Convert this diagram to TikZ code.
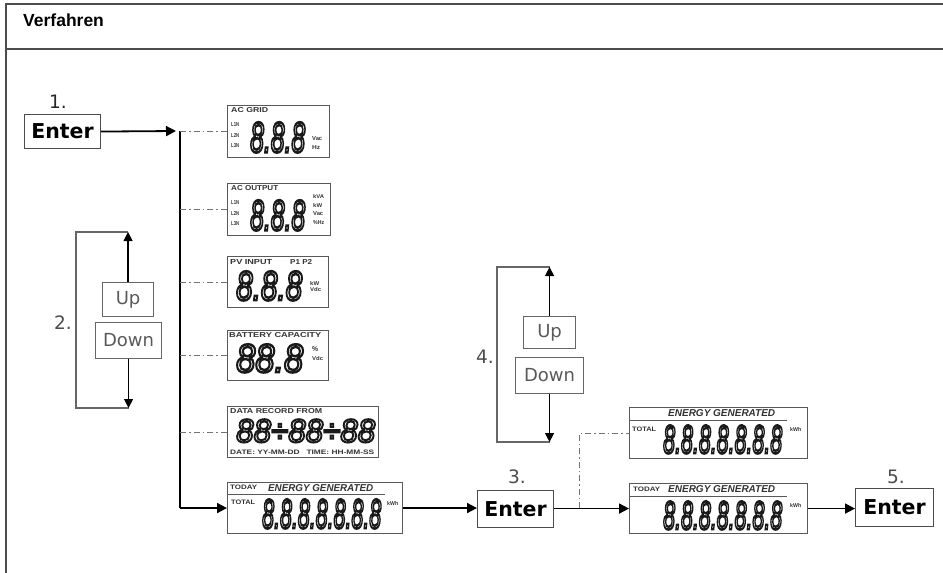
\documentclass[tikz,border=0pt]{standalone}
\usepackage{fontspec}
\usepackage{graphicx}
\setmainfont{Liberation Sans}
\newfontfamily\dvfont{DejaVu Sans}
\usetikzlibrary{arrows.meta}
\newcommand\lb[3]{\resizebox{#1pt}{#2pt}{\bfseries #3}}
\newcommand\lbi[3]{\resizebox{#1pt}{#2pt}{\bfseries\itshape #3}}
\newcommand\outl[1]{\special{pdf:literal q 1 Tr 0.6 w}#1\special{pdf:literal Q}}
\newcommand\dg[3]{\resizebox{#1pt}{#2pt}{\outl{\itshape #3}}}
\tikzset{
 frame/.style={draw=black!70, line width=1.2pt},
 flow/.style={draw=black, line width=1.8pt, -{Triangle[length=10pt,width=10pt]}},
 flowline/.style={draw=black, line width=1.6pt},
 thinflow/.style={draw=black, line width=1.3pt, -{Triangle[length=9pt,width=9pt]}},
 dd/.style={draw=black!55, line width=1pt, dash pattern=on 6pt off 3pt on 1.5pt off 3pt},
 btn/.style={draw=black!70, line width=1.1pt, inner sep=0pt, anchor=north west, font=\dvfont\bfseries\fontsize{20.5}{22}\selectfont},
 updn/.style={draw=black!60, line width=1.1pt, inner sep=0pt, anchor=north west, text=black!65, font=\dvfont\fontsize{18}{20}\selectfont},
 bracket/.style={draw=black!60, line width=1.3pt},
 stepnum/.style={text=black!70, font=\dvfont\fontsize{18.5}{20}\selectfont, inner sep=0pt},
 panel/.style={draw=black!65, line width=1.1pt, inner sep=0pt, anchor=north west},
 txt/.style={inner sep=0pt, text=black!80},
 dgt/.style={inner sep=0pt, anchor=north west, text=black!90},
 title/.style={inner sep=0pt, font=\bfseries\fontsize{17.5}{20}\selectfont},
}
\begin{document}
\begin{tikzpicture}[x=1pt,y=-1pt]
\useasboundingbox (0,0) rectangle (943,573);
% frame
\coordinate (ftl) at (6,4); \coordinate (ftr) at (943,4);
\coordinate (fbl) at (6,573);
\coordinate (fml) at (6,49); \coordinate (fmr) at (943,49);
\draw[frame] (ftr) -- (ftl) -- (fbl);
\draw[frame] (fml) -- (fmr);
\node[title, anchor=west] (title) at (23,20) {Verfahren};

% ---------- step 1
\node[stepnum, text=black!85] (n1) at (58,102) {1.};
\node[btn, minimum width=76pt, minimum height=34pt] (e1) at (24,114) {Enter};

% ---------- left column panels
% AC GRID
\node[panel, minimum width=102pt, minimum height=52pt] (p1) at (227,105) {};
\node[txt, anchor=west] (p1a) at (231,110) {\lb{37}{5}{AC GRID}};
\node[txt, anchor=west] (p1b) at (231,124) {\lb{8}{4}{L1N}};
\node[txt, anchor=west] (p1c) at (231,135) {\lb{8}{4}{L2N}};
\node[txt, anchor=west] (p1e) at (231,146) {\lb{8}{4}{L3N}};
\node[dgt] (p1d) at (250,122) {\dg{55}{30}{8.8.8}};
\node[txt, anchor=west] (p1f) at (312,139) {\lb{10}{4}{Vac}};
\node[txt, anchor=west] (p1g) at (312,147) {\lb{8}{4}{Hz}};
% AC OUTPUT
\node[panel, minimum width=103pt, minimum height=52pt] (p2) at (227,183) {};
\node[txt, anchor=west] (p2a) at (231,188) {\lb{47}{5}{AC OUTPUT}};
\node[txt, anchor=west] (p2b) at (231,202) {\lb{8}{4}{L1N}};
\node[txt, anchor=west] (p2c) at (231,213) {\lb{8}{4}{L2N}};
\node[txt, anchor=west] (p2e) at (231,224) {\lb{8}{4}{L3N}};
\node[dgt] (p2d) at (250,200) {\dg{55}{30}{8.8.8}};
\node[txt, anchor=west] (p2f) at (313,196) {\lb{11}{4}{kVA}};
\node[txt, anchor=west] (p2g) at (313,205) {\lb{9}{4}{kW}};
\node[txt, anchor=west] (p2h) at (313,214) {\lb{10}{4}{Vac}};
\node[txt, anchor=west] (p2i) at (313,223) {\lb{11}{4}{\%Hz}};
% PV INPUT
\node[panel, minimum width=101pt, minimum height=51pt] (p3) at (227,256) {};
\node[txt, anchor=west] (p3a) at (230,262) {\lb{42}{5}{PV INPUT}};
\node[txt, anchor=west] (p3b) at (290,262) {\lb{22}{5}{P1 P2}};
\node[dgt] (p3d) at (236,271) {\dg{66}{29}{8.8.8}};
\node[txt, anchor=west] (p3f) at (310,283) {\lb{9}{4}{kW}};
\node[txt, anchor=west] (p3g) at (310,290) {\lb{11}{4}{Vdc}};
% BATTERY CAPACITY
\node[panel, minimum width=101pt, minimum height=50pt] (p4) at (227,330) {};
\node[txt, anchor=west] (p4a) at (229,335) {\lb{92}{5}{BATTERY CAPACITY}};
\node[txt, anchor=west] (p4b) at (312,349) {\lb{6}{5}{\%}};
\node[dgt] (p4d) at (236,344) {\dg{67}{28}{88.8}};
\node[txt, anchor=west] (p4c) at (312,359) {\lb{11}{4}{Vdc}};
% DATA RECORD FROM
\node[panel, minimum width=151pt, minimum height=51pt] (p5) at (227,406) {};
\node[txt, anchor=west] (p5a) at (230,411) {\lb{92}{5}{DATA RECORD FROM}};
\node[dgt] (p5d) at (236,419) {\dg{139}{23}{88÷88÷88}};
\node[txt, anchor=west] (p5b) at (230,452) {\lb{144}{4.5}{DATE: YY-MM-DD\ \ \ TIME: HH-MM-SS}};
% TODAY ENERGY GENERATED (left)
\node[panel, minimum width=175pt, minimum height=51pt] (p6) at (227,482) {};
\node[txt, anchor=west] (p6a) at (230,487) {\lb{27}{4.5}{TODAY}};
\node[txt, anchor=west] (p6b) at (268,488) {\lbi{105}{7}{ENERGY GENERATED}};
\coordinate (p6l1) at (227,494); \coordinate (p6l2) at (385,494);
\draw[draw=black!65, line width=0.9pt] (p6l1) -- (p6l2);
\node[txt, anchor=west] (p6c) at (231,502) {\lb{24}{4.5}{TOTAL}};
\node[dgt] (p6d) at (262,499) {\dg{119}{29}{8.8.8.8.8.8.8}};
\node[txt, anchor=west] (p6e) at (387,503) {\lb{11}{4}{kWh}};

% ---------- connections left column
\coordinate (v1t) at (180,131);
\coordinate (a1) at (176,131);
\draw[flow] (e1.east) -- (a1);
\draw[flowline] (v1t) -- (p6.west -| v1t);
\draw[flow] (p6.west -| v1t) -- (p6.west);
\draw[dd] (p1.west -| v1t) -- (p1.west);
\draw[dd] (p2.west -| v1t) -- (p2.west);
\draw[dd] (p3.west -| v1t) -- (p3.west);
\draw[dd] (p4.west -| v1t) -- (p4.west);
\draw[dd] (p5.west -| v1t) -- (p5.west);

% ---------- step 2
\node[stepnum] (n2) at (63,323) {2.};
\node[updn, minimum width=51pt, minimum height=34pt] (up2) at (102,282) {Up};
\node[updn, minimum width=66pt, minimum height=36pt] (dn2) at (95,322) {Down};
\coordinate (u2) at (up2.north |- 0,232);
\coordinate (d2) at (dn2.south |- 0,408);
\coordinate (b2) at (76,408);
\draw[bracket] (u2) -| (b2) -- (d2);
\draw[thinflow] (up2.north) -- (u2);
\draw[thinflow] (dn2.south) -- (d2);

% ---------- step 4
\node[stepnum] (n4) at (485,357) {4.};
\node[updn, minimum width=52pt, minimum height=32pt] (up4) at (523,316) {Up};
\node[updn, minimum width=68pt, minimum height=36pt] (dn4) at (515,357) {Down};
\coordinate (u4) at (up4.north |- 0,267);
\coordinate (d4) at (dn4.south |- 0,442);
\coordinate (b4) at (497,442);
\draw[bracket] (u4) -| (b4) -- (d4);
\draw[thinflow] (up4.north) -- (u4);
\draw[thinflow] (dn4.south) -- (d4);

% ---------- step 3
\node[stepnum] (n3) at (517,477) {3.};
\node[btn, minimum width=76pt, minimum height=37pt] (e3) at (477,490) {Enter};
\draw[flow] (p6.east) -- (e3.west |- p6.east);

% ---------- right column panels
% TOTAL
\node[panel, minimum width=178pt, minimum height=51pt] (p7) at (629,407) {};
\node[txt, anchor=west] (p7b) at (668,413) {\lbi{107}{7}{ENERGY GENERATED}};
\coordinate (p7l1) at (629,420); \coordinate (p7l2) at (787,420);
\draw[draw=black!65, line width=0.9pt] (p7l1) -- (p7l2);
\node[txt, anchor=west] (p7c) at (632,429) {\lb{24}{4.5}{TOTAL}};
\node[dgt] (p7d) at (663,425) {\dg{119}{28}{8.8.8.8.8.8.8}};
\node[txt, anchor=west] (p7e) at (790,429) {\lb{11}{4}{kWh}};
% TODAY
\node[panel, minimum width=178pt, minimum height=50pt] (p8) at (629,483) {};
\node[txt, anchor=west] (p8a) at (633,489) {\lb{27}{4.5}{TODAY}};
\node[txt, anchor=west] (p8b) at (668,489) {\lbi{107}{7}{ENERGY GENERATED}};
\coordinate (p8l1) at (629,496); \coordinate (p8l2) at (787,496);
\draw[draw=black!65, line width=0.9pt] (p8l1) -- (p8l2);
\node[dgt] (p8d) at (663,501) {\dg{119}{28}{8.8.8.8.8.8.8}};
\node[txt, anchor=west] (p8e) at (790,505) {\lb{11}{4}{kWh}};

% connections step 3 -> panels
\coordinate (j3) at (579,508);
\coordinate (k3) at (579,433);
\draw[flow] (e3.east |- p8.west) -- (p8.west);
\draw[dd] (j3) -- (k3) -- (p7.west |- k3);

% ---------- step 5
\node[stepnum] (n5) at (896,477) {5.};
\node[btn, minimum width=78pt, minimum height=38pt] (e5) at (855,488) {Enter};
\draw[flow] (p8.east) -- (e5.west |- p8.east);
\end{tikzpicture}
\end{document}
